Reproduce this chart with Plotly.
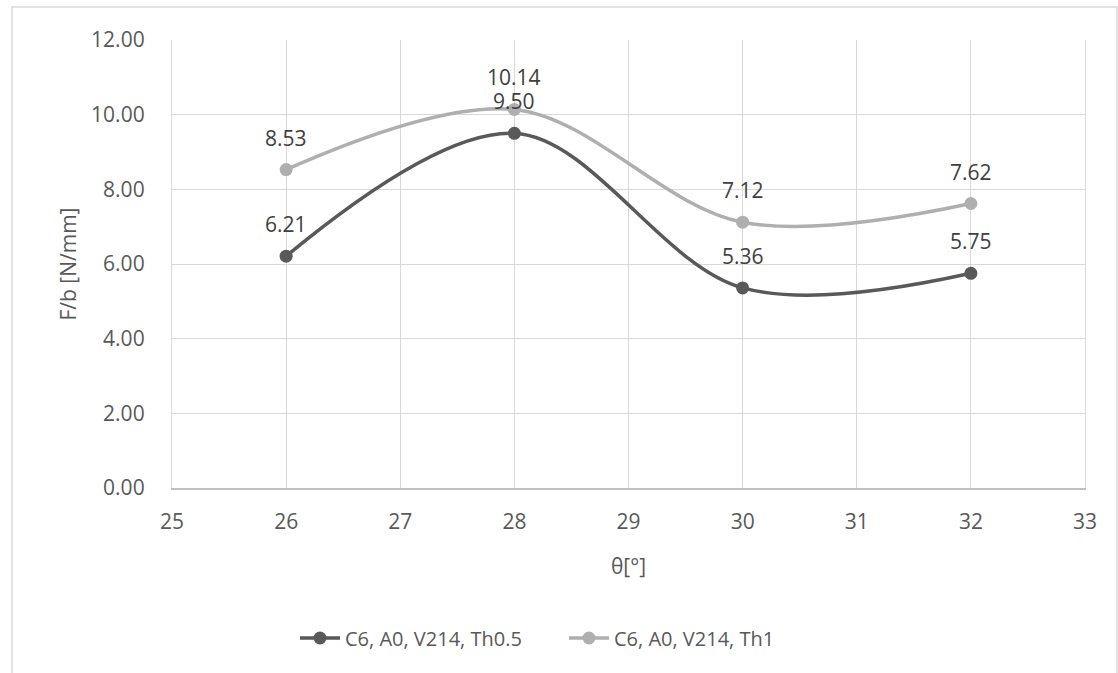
import plotly.graph_objects as go

# Peel angle θ [°] and specific peel force F/b [N/mm]
theta = [26, 28, 30, 32]
fb_th05 = [6.21, 9.50, 5.36, 5.75]
fb_th1 = [8.53, 10.14, 7.12, 7.62]
series_names = ["C6, A0, V214, Th0.5", "C6, A0, V214, Th1"]
series_colors = ["#595959", "#afafaf"]

W, H = 1118, 673
L, R, T, B = 172, 33, 40, 185
pw, ph = W - L - R, H - T - B

FONT = "Open Sans"
TXT = "#595959"

fig = go.Figure()
for name, ys, col in zip(series_names, [fb_th05, fb_th1], series_colors):
    fig.add_trace(go.Scatter(
        x=theta, y=ys, name=name, mode="lines+markers",
        line=dict(color=col, width=3.5, shape="spline", smoothing=1),
        marker=dict(color=col, size=13),
    ))

# value labels above each point
for ys in [fb_th05, fb_th1]:
    for xv, yv in zip(theta, ys):
        fig.add_annotation(x=xv, y=yv, text=f"{yv:.2f}", showarrow=False,
                           yshift=32, font=dict(family=FONT, size=21, color="#404040"))


def px_x(p):
    return (p - L) / pw


def px_y(p):
    return (H - B - p) / ph


# chart frame
fig.add_shape(type="rect", xref="paper", yref="paper",
              x0=px_x(12), x1=px_x(1117), y0=px_y(700), y1=px_y(7),
              line=dict(color="#d9d9d9", width=1.5), fillcolor="rgba(0,0,0,0)", layer="below")

fig.update_layout(
    width=W, height=H,
    margin=dict(l=L, r=R, t=T, b=B, pad=0),
    paper_bgcolor="white", plot_bgcolor="white",
    font=dict(family=FONT, size=21, color=TXT),
    showlegend=True,
    legend=dict(orientation="h", x=px_x(295), xanchor="left", y=px_y(638), yanchor="middle",
                font=dict(family=FONT, size=20, color=TXT), itemwidth=40, tracegroupgap=0,
                entrywidth=214, entrywidthmode="pixels"),
    xaxis=dict(range=[25, 33], dtick=1, tick0=25, showgrid=True, gridcolor="#d9d9d9", gridwidth=1.3,
               showline=True, linecolor="#bfbfbf", linewidth=1.5, zeroline=False,
               ticks="", ticklabelstandoff=14,
               title=dict(text="θ[°]", standoff=25, font=dict(family=FONT, size=21, color=TXT))),
    yaxis=dict(range=[0, 12], dtick=2, tick0=0, tickformat=".2f", showgrid=True,
               gridcolor="#d9d9d9", gridwidth=1.3, showline=True, mirror=True,
               linecolor="#d9d9d9", linewidth=1.3, zeroline=False,
               ticks="", ticklabelstandoff=22,
               title=dict(text="F/b [N/mm]", standoff=8, font=dict(family=FONT, size=21, color=TXT))),
)

fig.write_html("out.html")
